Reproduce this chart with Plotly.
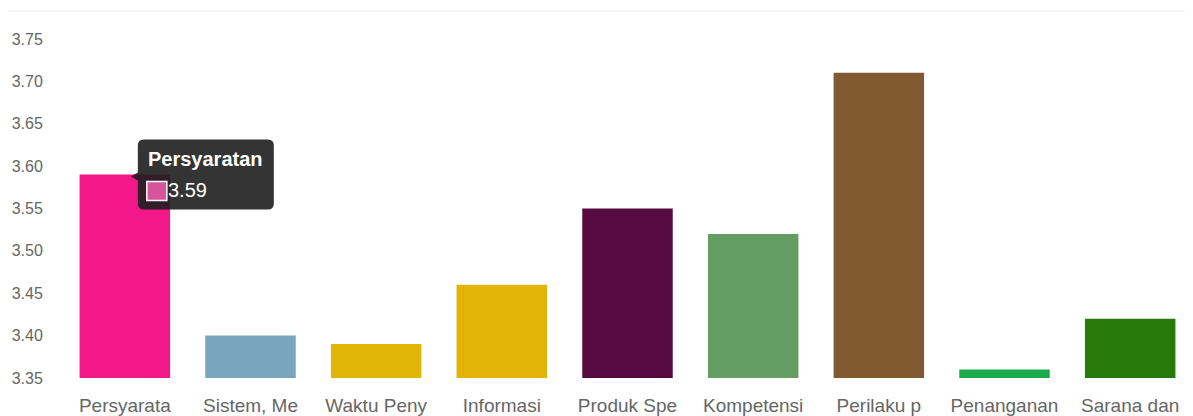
import plotly.graph_objects as go

categories = ["Persyaratan", "Sistem, Mekanisme, dan Prosedur", "Waktu Penyelesaian",
              "Informasi", "Produk Spesifikasi Jenis Pelayanan", "Kompetensi Pelaksana",
              "Perilaku pelaksana", "Penanganan Pengaduan", "Sarana dan Prasarana"]
tick_labels = ["Persyarata", "Sistem, Me", "Waktu Peny", "Informasi", "Produk Spe",
               "Kompetensi", "Perilaku p", "Penanganan", "Sarana dan"]
values = [3.59, 3.40, 3.39, 3.46, 3.55, 3.52, 3.71, 3.36, 3.42]
colors = ["#F2188A", "#77A6BE", "#E1B508", "#E2B406", "#560A40", "#649E62",
          "#825A32", "#1DAA4B", "#257A0A"]
y_ticks = [3.35, 3.40, 3.45, 3.50, 3.55, 3.60, 3.65, 3.70, 3.75]

base = 3.35
fig = go.Figure(go.Bar(
    x=list(range(len(categories))),
    y=[v - base for v in values],
    base=base,
    marker=dict(color=colors, line=dict(width=0)),
    hoverinfo="skip",
))

# tooltip for the first bar
tx, ty = 0, values[0]
r = 6
L, R, T, B = 13, 149, 35, -35
path = (f"M {L+r},{T} L {R-r},{T} Q {R},{T} {R},{T-r} L {R},{B+r} Q {R},{B} {R-r},{B} "
        f"L {L+r},{B} Q {L},{B} {L},{B+r} L {L},{-6} L {L-7},{-2} L {L},{2} "
        f"L {L},{T-r} Q {L},{T} {L+r},{T} Z")
shapes = [
    dict(type="path", xref="x", yref="y", xsizemode="pixel", ysizemode="pixel",
         xanchor=tx, yanchor=ty, path=path, fillcolor="rgba(30,30,30,0.9)",
         line=dict(width=0), layer="above"),
    dict(type="rect", xref="x", yref="y", xsizemode="pixel", ysizemode="pixel",
         xanchor=tx, yanchor=ty, x0=22, x1=42, y0=-7, y1=-26,
         fillcolor="#D6559A", line=dict(color="white", width=1.5), layer="above"),
    dict(type="line", xref="paper", yref="paper", x0=-0.06, x1=1.0, y0=1.03, y1=1.03,
         line=dict(color="#EEEEEE", width=1)),
]
annotations = [
    dict(x=tx, y=ty, xref="x", yref="y", xshift=21, yshift=16, xanchor="left",
         yanchor="middle", showarrow=False, text="<b>" + categories[0] + "</b>",
         font=dict(color="white", size=20, family="Liberation Sans")),
    dict(x=tx, y=ty, xref="x", yref="y", xshift=41, yshift=-15, xanchor="left",
         yanchor="middle", showarrow=False, text=f"{values[0]:.2f}",
         font=dict(color="white", size=20, family="Liberation Sans")),
]

fig.update_layout(
    width=1185, height=408,
    margin=dict(l=54, r=0, t=14, b=31),
    paper_bgcolor="white", plot_bgcolor="white",
    bargap=0.28, showlegend=False,
    font=dict(family="Liberation Sans", color="#666666"),
    shapes=shapes, annotations=annotations,
    xaxis=dict(tickmode="array", tickvals=list(range(len(categories))),
               ticktext=tick_labels, range=[-0.5, len(categories) - 0.5],
               showgrid=False, zeroline=False, showline=False,
               ticks="outside", ticklen=10, tickcolor="rgba(0,0,0,0)",
               tickfont=dict(size=19, color="#666666")),
    yaxis=dict(range=[3.35, 3.77], tickmode="array", tickvals=y_ticks,
               ticktext=[f"{v:.2f}" for v in y_ticks],
               showgrid=False, zeroline=False, showline=False,
               ticks="outside", ticklen=15, tickcolor="rgba(0,0,0,0)",
               tickfont=dict(size=16, color="#666666")),
)

fig.write_html("out.html")
